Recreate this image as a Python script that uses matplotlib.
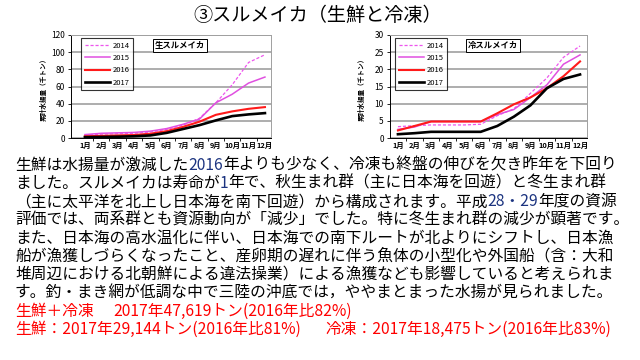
import matplotlib
matplotlib.use("Agg")
import matplotlib.pyplot as plt
import numpy as np

plt.rcParams['font.family'] = ['Noto Sans CJK JP', 'DejaVu Sans']

# データ
months = ["1月", "2月", "3月", "4月", "5月", "6月", "7月", "8月", "9月", "10月", "11月", "12月"]
years = ["2014", "2015", "2016", "2017"]

# 生スルメイカ 累計水揚量（千トン）
fresh_2014 = [3.5, 4.5, 5, 5.5, 7, 10, 15, 23, 41, 62, 88, 97]
fresh_2015 = [4, 5.5, 6, 6.5, 8, 11, 16, 22, 41, 51, 64, 71]
fresh_2016 = [2, 2.5, 3, 3.5, 5, 8, 13, 19, 27, 31, 34, 36]
fresh_2017 = [1, 1.2, 1.5, 2, 3, 6, 10.5, 15, 20.5, 25.5, 27.5, 29]

# 冷スルメイカ 累計水揚量（千トン）
frozen_2014 = [3.3, 3.6, 3.8, 3.8, 3.8, 4, 6.5, 8.5, 13, 17.5, 23.5, 26.8]
frozen_2015 = [2.5, 3.2, 4.8, 4.8, 4.8, 4.8, 6.8, 8.3, 11.8, 15.5, 21.5, 24.2]
frozen_2016 = [2.2, 3.5, 4.8, 4.8, 4.8, 4.8, 7.2, 9.8, 11.8, 14.5, 18, 22.3]
frozen_2017 = [1.1, 1.4, 1.8, 1.8, 1.8, 1.8, 3.5, 6.2, 9.5, 14.5, 17.2, 18.5]

# 線のスタイル
styles = {
    "2014": dict(color="#ee55ee", lw=0.9, ls=(0, (2.5, 1.5))),
    "2015": dict(color="#e050e0", lw=1.1),
    "2016": dict(color="#ff1a1a", lw=1.5),
    "2017": dict(color="black", lw=1.9),
}

BLUE = "#1c3480"
RED = "#ff0000"

fig = plt.figure(figsize=(6.4, 3.6), dpi=100)
fig.patch.set_facecolor("white")

# ピクセル座標用の背景軸
base = fig.add_axes([0, 0, 1, 1])
base.set_xlim(0, 640)
base.set_ylim(360, 0)
base.axis("off")


def px_axes(x0, y0, x1, y1):
    return fig.add_axes([x0 / 640, 1 - y1 / 360, (x1 - x0) / 640, (y1 - y0) / 360])


def draw_chart(ax, data, ymax, step, title, xlim, title_x, leg_x, ylab_x):
    x = np.arange(1, 13)
    for yr, vals in zip(years, data):
        ax.plot(x, vals, label=yr, **styles[yr])
    ax.set_xlim(*xlim)
    ax.set_ylim(0, ymax)
    ax.set_yticks(np.arange(0, ymax + 1, step))
    ax.yaxis.grid(True, color="#a0a0a0", lw=1.2)
    ax.set_axisbelow(True)
    ax.set_xticks(x)
    ax.set_xticklabels(months, fontsize=5.3, fontweight="bold")
    ax.set_xticks(np.arange(1.5, 12, 1), minor=True)
    ax.tick_params(axis="x", which="major", length=0, pad=3)
    ax.tick_params(axis="x", which="minor", length=2.5, width=0.6)
    ax.tick_params(axis="y", labelsize=6, length=2.5, width=0.6, pad=2)
    for s in ["left", "bottom"]:
        ax.spines[s].set_color("black")
        ax.spines[s].set_linewidth(0.7)
    for s in ["top", "right"]:
        ax.spines[s].set_color("#a0a0a0")
        ax.spines[s].set_linewidth(0.7)
    ax.set_ylabel("累計水揚量（千トン）", fontsize=4.8, fontweight="bold")
    ax.yaxis.set_label_coords(ylab_x, 0.485)
    leg = ax.legend(loc="upper left", bbox_to_anchor=(leg_x, 0.97), borderaxespad=0,
                    fontsize=5.5, frameon=True, fancybox=False, edgecolor="black",
                    handlelength=3.3, handletextpad=0.3, borderpad=0.5, labelspacing=0.55)
    leg.get_frame().set_linewidth(0.8)
    ax.text(title_x, 0.90, title, transform=ax.transAxes, fontsize=6, fontweight="bold",
            ha="center", va="center",
            bbox=dict(boxstyle="square,pad=0.25", fc="white", ec="black", lw=0.7))


ax1 = px_axes(71, 35, 271, 138)
draw_chart(ax1, [fresh_2014, fresh_2015, fresh_2016, fresh_2017], 120, 20,
           "生スルメイカ", (0.15, 12.37), 0.545, 0.05, -0.12)

ax2 = px_axes(390, 35, 587, 138)
draw_chart(ax2, [frozen_2014, frozen_2015, frozen_2016, frozen_2017], 30, 5,
           "冷スルメイカ", (0.52, 12.42), 0.523, 0.025, -0.127)

# タイトル
base.text(318, 15, "③スルメイカ（生鮮と冷凍）", fontsize=13.8, ha="center", va="center")


def write_line(x, y, parts, size=11.3):
    """色の異なる文字列を順につなげて描く"""
    prev = None
    for txt, col in parts:
        if prev is None:
            prev = base.text(x, y, txt, color=col, fontsize=size, ha="left", va="center")
        else:
            prev = base.annotate(txt, xy=(1, 0), xycoords=prev, ha="left", va="bottom",
                                 color=col, fontsize=size)


K = "black"
body = [
    [("生鮮は水揚量が激減した", K), ("2016", BLUE), ("年よりも少なく、冷凍も終盤の伸びを欠き昨年を下回り", K)],
    [("ました。スルメイカは寿命が", K), ("1", BLUE), ("年で、秋生まれ群（主に日本海を回遊）と冬生まれ群", K)],
    [("（主に太平洋を北上し日本海を南下回遊）から構成されます。平成", K), ("28・29", BLUE), ("年度の資源", K)],
    [("評価では、両系群とも資源動向が「減少」でした。特に冬生まれ群の減少が顕著です。", K)],
    [("また、日本海の高水温化に伴い、日本海での南下ルートが北よりにシフトし、日本漁", K)],
    [("船が漁獲しづらくなったこと、産卵期の遅れに伴う魚体の小型化や外国船（含：大和", K)],
    [("堆周辺における北朝鮮による違法操業）による漁獲なども影響していると考えられま", K)],
    [("す。釣・まき網が低調な中で三陸の沖底では，ややまとまった水揚が見られました。", K)],
]

y0 = 165
for i, parts in enumerate(body):
    write_line(15, y0 + i * 18.3, parts)

write_line(15, y0 + 8 * 18.3, [("生鮮＋冷凍", RED)])
write_line(113, y0 + 8 * 18.3, [("2017年47,619トン(2016年比82%)", RED)])
write_line(15, y0 + 9 * 18.3, [("生鮮：2017年29,144トン(2016年比81%)", RED)])
write_line(325, y0 + 9 * 18.3, [("冷凍：2017年18,475トン(2016年比83%)", RED)])

fig.savefig("out.png", dpi=100)
